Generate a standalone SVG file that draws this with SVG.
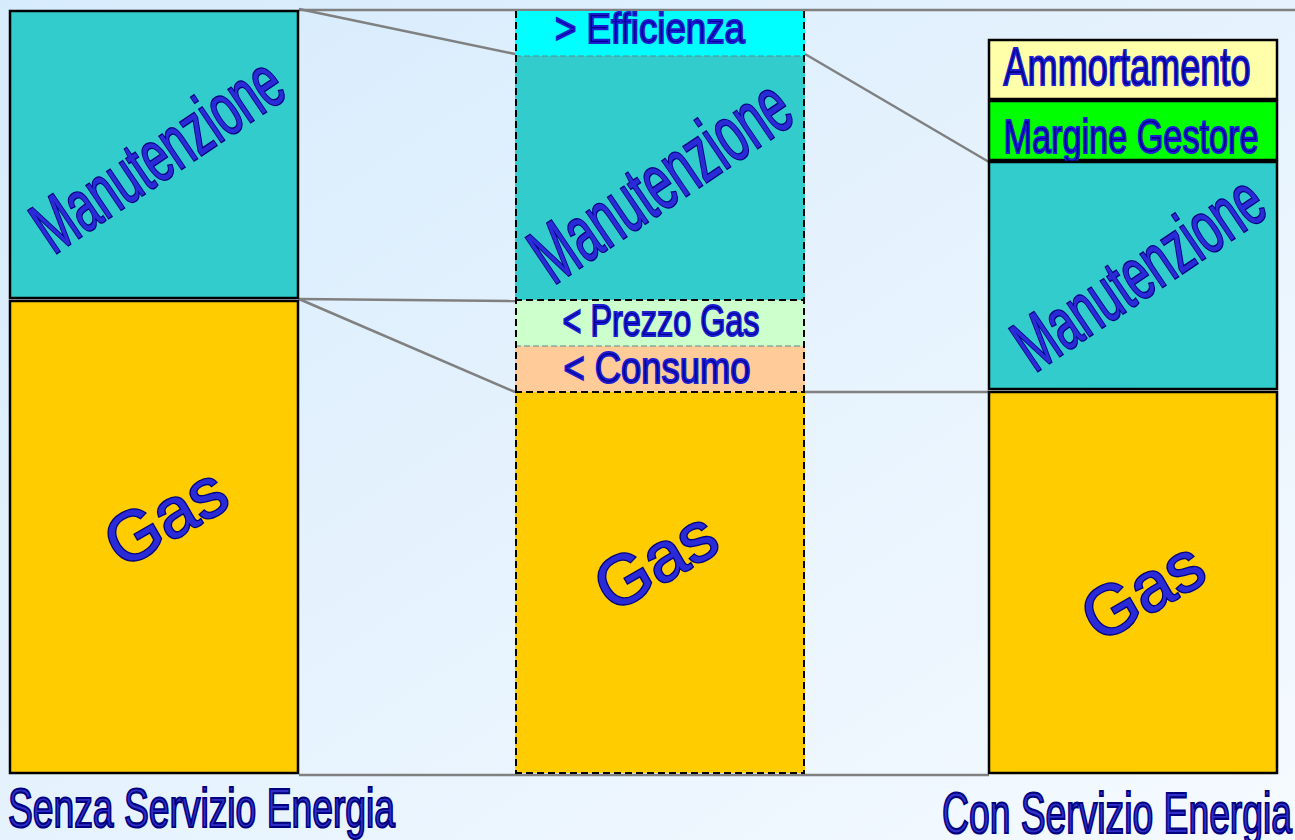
<svg xmlns="http://www.w3.org/2000/svg" width="1295" height="840" viewBox="0 0 1295 840">
<defs>
<linearGradient id="bg" x1="0" y1="0" x2="1" y2="1">
<stop offset="0" stop-color="#d6ebfc"/>
<stop offset="1" stop-color="#f5faff"/>
</linearGradient>
<style>
.box{stroke:#000;stroke-width:2.5}
.teal{fill:#33cccc}
.gas{fill:#ffcc00}
.conn{stroke:#808080;stroke-width:2.5;fill:none}
.big{font-family:"Liberation Sans",Arial,sans-serif;fill:#2a2ad6;stroke:#000080;stroke-width:2.6;paint-order:stroke;text-anchor:middle}
.lbl{font-family:"Liberation Sans",Arial,sans-serif;fill:#000090;stroke:#1c1cd0;stroke-width:2;text-anchor:middle}
.cap{font-family:"Liberation Sans",Arial,sans-serif;fill:#3030c8;stroke:#000080;stroke-width:2.2;text-anchor:start}
.dash{stroke:#000;stroke-width:2;stroke-dasharray:7,4;fill:none}
.thin{stroke:#5a8a8a;stroke-width:1;stroke-dasharray:6,3;fill:none}
</style>
</defs>
<rect x="0" y="0" width="1295" height="840" fill="url(#bg)"/>

<g id="connectors">
<line class="conn" x1="299" y1="10" x2="1295" y2="10"/>
<line class="conn" x1="299" y1="9" x2="515" y2="54"/>
<line class="conn" x1="805" y1="54" x2="989" y2="162"/>
<line class="conn" x1="299" y1="299" x2="515" y2="301"/>
<line class="conn" x1="299" y1="299" x2="515" y2="392"/>
<line class="conn" x1="805" y1="392" x2="989" y2="392"/>
<line class="conn" x1="299" y1="775" x2="989" y2="775"/>
</g>

<g id="left-manutenzione">
<rect class="box teal" x="10" y="11" width="288" height="287"/>
<text class="big" font-size="74" textLength="285" lengthAdjust="spacingAndGlyphs" transform="translate(157,154) rotate(-34)" y="26">Manutenzione</text>
</g>
<g id="left-gas">
<rect class="box gas" x="10" y="301" width="288" height="472"/>
<text class="big" font-size="70" transform="translate(165,516) rotate(-30)" y="25">Gas</text>
</g>

<g id="mid-efficienza">
<rect fill="#00ffff" x="515" y="11" width="290" height="45"/>
<text class="lbl" font-size="42" textLength="190" lengthAdjust="spacingAndGlyphs" x="650" y="43">&gt; Efficienza</text>
</g>
<g id="mid-manutenzione">
<rect class="teal" x="515" y="56" width="290" height="244"/>
<text class="big" font-size="80" textLength="295" lengthAdjust="spacingAndGlyphs" transform="translate(660,180) rotate(-34)" y="28">Manutenzione</text>
</g>
<g id="mid-prezzo">
<rect fill="#ccffcc" x="515" y="300" width="290" height="46"/>
<text class="lbl" font-size="44" textLength="197" lengthAdjust="spacingAndGlyphs" x="661" y="336">&lt; Prezzo Gas</text>
</g>
<g id="mid-consumo">
<rect fill="#ffcc99" x="515" y="346" width="290" height="46"/>
<text class="lbl" font-size="44" textLength="187" lengthAdjust="spacingAndGlyphs" x="657" y="383">&lt; Consumo</text>
</g>
<g id="mid-gas">
<rect class="gas" x="515" y="392" width="290" height="381"/>
<text class="big" font-size="70" transform="translate(655,560) rotate(-30)" y="25">Gas</text>
</g>
<g id="mid-frame">
<line class="thin" x1="515" y1="56" x2="805" y2="56"/>
<line class="thin" x1="515" y1="346" x2="805" y2="346"/>
<line class="dash" x1="515" y1="300" x2="805" y2="300"/>
<line class="dash" x1="515" y1="392" x2="805" y2="392"/>
<line class="dash" x1="516" y1="11" x2="516" y2="773"/>
<line class="dash" x1="515" y1="773" x2="805" y2="773"/>
<line class="dash" x1="804" y1="11" x2="804" y2="773" stroke-width="1.2"/>
</g>

<g id="right-ammortamento">
<rect class="box" fill="#ffffaa" x="989" y="40" width="288" height="59"/>
<text class="lbl" font-size="54" textLength="247" lengthAdjust="spacingAndGlyphs" x="1127" y="85">Ammortamento</text>
</g>
<g id="right-margine">
<rect class="box" fill="#00ff00" x="989" y="101" width="288" height="59"/>
<text class="lbl" font-size="48" textLength="255" lengthAdjust="spacingAndGlyphs" x="1131" y="153">Margine Gestore</text>
</g>
<g id="right-manutenzione">
<rect class="box teal" x="989" y="162" width="288" height="227"/>
<text class="big" font-size="74" textLength="285" lengthAdjust="spacingAndGlyphs" transform="translate(1138,272) rotate(-34)" y="26">Manutenzione</text>
</g>
<g id="right-gas">
<rect class="box gas" x="989" y="392" width="288" height="381"/>
<text class="big" font-size="70" transform="translate(1142,590) rotate(-30)" y="25">Gas</text>
</g>

<g id="captions">
<text class="cap" font-size="55" textLength="387" lengthAdjust="spacingAndGlyphs" x="8" y="827">Senza Servizio Energia</text>
<text class="cap" font-size="58" textLength="350" lengthAdjust="spacingAndGlyphs" x="942" y="833">Con Servizio Energia</text>
</g>
</svg>
